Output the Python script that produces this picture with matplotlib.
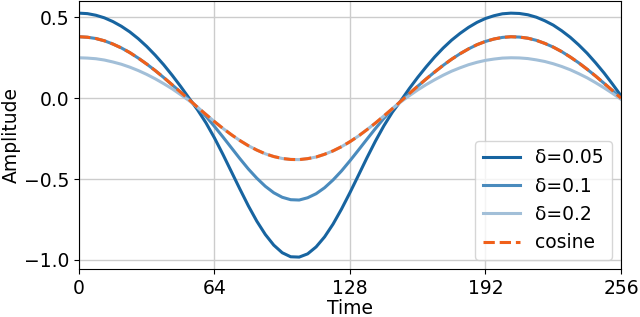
import matplotlib
matplotlib.use("Agg")
import matplotlib.pyplot as plt

# time samples (every 4 steps)
time = list(range(0, 257, 4))

# values
amp_d005 = [0.526, 0.523, 0.513, 0.497, 0.474, 0.445, 0.410, 0.368, 0.320,
            0.266, 0.207, 0.142, 0.073, 0.000, -0.072, -0.153, -0.246, -0.348,
            -0.455, -0.562, -0.666, -0.761, -0.843, -0.909, -0.956, -0.981,
            -0.983, -0.963, -0.920, -0.858, -0.779, -0.686, -0.584, -0.477,
            -0.369, -0.266, -0.171, -0.087, -0.016, 0.059, 0.129, 0.194, 0.255,
            0.310, 0.359, 0.401, 0.438, 0.469, 0.493, 0.510, 0.522, 0.526,
            0.524, 0.516, 0.501, 0.479, 0.452, 0.417, 0.377, 0.330, 0.278,
            0.219, 0.156, 0.087, 0.015]
amp_d01 = [0.380, 0.377, 0.369, 0.355, 0.335, 0.311, 0.282, 0.248, 0.211,
           0.171, 0.128, 0.083, 0.037, -0.009, -0.058, -0.113, -0.175, -0.240,
           -0.307, -0.374, -0.438, -0.495, -0.545, -0.585, -0.613, -0.628,
           -0.630, -0.616, -0.591, -0.554, -0.506, -0.450, -0.387, -0.321,
           -0.254, -0.188, -0.125, -0.068, -0.019, 0.028, 0.074, 0.119, 0.162,
           0.203, 0.241, 0.275, 0.305, 0.331, 0.351, 0.366, 0.376, 0.380,
           0.378, 0.371, 0.358, 0.339, 0.316, 0.288, 0.255, 0.219, 0.179,
           0.137, 0.092, 0.047, 0.000]
amp_d02 = [0.250, 0.248, 0.244, 0.236, 0.224, 0.210, 0.192, 0.171, 0.147,
           0.120, 0.090, 0.058, 0.022, -0.015, -0.056, -0.101, -0.145, -0.187,
           -0.226, -0.262, -0.294, -0.321, -0.344, -0.361, -0.373, -0.379,
           -0.380, -0.374, -0.364, -0.347, -0.326, -0.300, -0.269, -0.234,
           -0.195, -0.154, -0.110, -0.065, -0.023, 0.015, 0.051, 0.084, 0.114,
           0.142, 0.167, 0.188, 0.207, 0.222, 0.234, 0.242, 0.248, 0.250,
           0.249, 0.245, 0.237, 0.227, 0.213, 0.196, 0.176, 0.152, 0.126,
           0.096, 0.064, 0.030, -0.007]
amp_cos = [0.380, 0.377, 0.369, 0.355, 0.335, 0.311, 0.282, 0.248, 0.211,
           0.171, 0.128, 0.083, 0.037, -0.009, -0.056, -0.101, -0.145, -0.187,
           -0.226, -0.262, -0.294, -0.321, -0.344, -0.361, -0.373, -0.379,
           -0.380, -0.374, -0.364, -0.347, -0.326, -0.300, -0.269, -0.234,
           -0.195, -0.154, -0.110, -0.065, -0.019, 0.028, 0.074, 0.119, 0.162,
           0.203, 0.241, 0.275, 0.305, 0.331, 0.351, 0.366, 0.376, 0.380,
           0.378, 0.371, 0.358, 0.339, 0.316, 0.288, 0.255, 0.219, 0.179,
           0.137, 0.092, 0.047, 0.000]

labels = ["δ=0.05", "δ=0.1", "δ=0.2", "cosine"]
x_ticks = [0, 64, 128, 192, 256]

plt.rcParams["font.size"] = 13.5

fig, ax = plt.subplots(figsize=(6.4, 3.17), dpi=100)
fig.subplots_adjust(left=0.1234, right=0.9703, top=0.997, bottom=0.1505)

ax.plot(time, amp_d005, color="#1764a0", lw=2.2, label=labels[0])
ax.plot(time, amp_d01, color="#4a8bbd", lw=2.2, label=labels[1])
ax.plot(time, amp_d02, color="#a2bfd8", lw=2.2, label=labels[2])
ax.plot(time, amp_cos, "--", color="#f0601a", lw=2.2, label=labels[3])

ax.set_xlim(0, 256)
ax.set_xticks(x_ticks)
ax.set_yticks([-1.0, -0.5, 0.0, 0.5])
ax.grid(True, color="#cccccc", lw=1.0)
ax.set_axisbelow(True)
ax.set_xlabel("Time", labelpad=1)
ax.set_ylabel("Amplitude", labelpad=2)
ax.legend(loc="lower right")

plt.savefig("out.png")
